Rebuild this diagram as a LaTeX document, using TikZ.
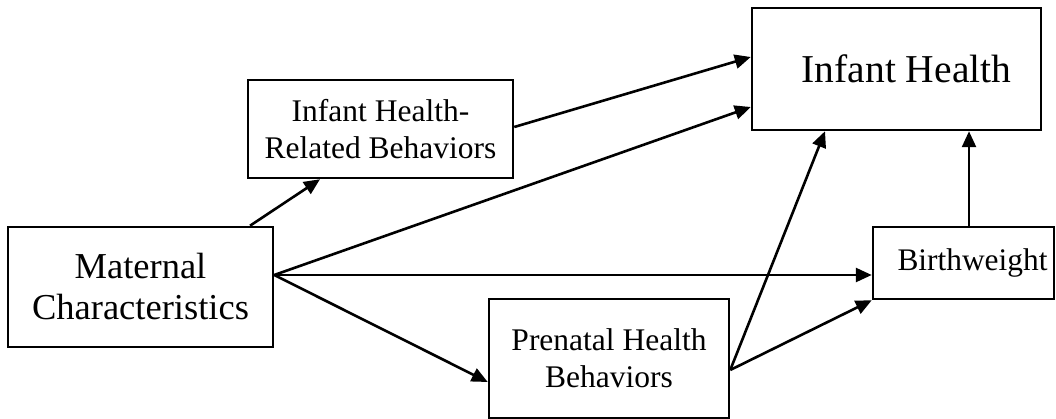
\documentclass[tikz,border=0pt]{standalone}
\usepackage{fontspec}
\setmainfont{Liberation Serif}
\usetikzlibrary{arrows.meta}
\begin{document}
\begin{tikzpicture}[x=1pt,y=-1pt,
  box/.style={draw,line width=2.5pt,align=center,inner sep=0pt,anchor=center},
  arr/.style={line width=2.6pt,-{Triangle[length=16pt,width=14pt]}}]
\useasboundingbox (0,0) rectangle (1056,419);
\node[box,minimum width=289pt,minimum height=122pt,font=\fontsize{39.5}{45}\selectfont] (ih) at (896.5,69) {\hspace*{20pt}Infant Health};
\node[box,minimum width=265pt,minimum height=98pt,font=\fontsize{31.5}{37}\selectfont] (ihrb) at (380.5,129) {Infant Health-\\Related Behaviors};
\node[box,minimum width=265pt,minimum height=120pt,font=\fontsize{36.5}{41}\selectfont] (mat) at (140.5,287) {Maternal\\Characteristics};
\node[box,minimum width=181pt,minimum height=72pt,font=\fontsize{31.4}{37}\selectfont] (bw) at (963.5,263) {\hspace*{18pt}Birthweight};
\node[box,minimum width=240pt,minimum height=119pt,font=\fontsize{31.5}{37}\selectfont] (pre) at (609,358.5) {Prenatal Health\\Behaviors};
\draw[arr] ([xshift=109.5pt]mat.north) -- ([xshift=-60.5pt]ihrb.south);
\draw[arr] ([yshift=2pt]ihrb.east) -- ([yshift=12pt]ih.west);
\draw[arr] ([yshift=12pt]mat.east) -- ([yshift=-38pt]ih.west);
\draw[arr] ([yshift=12pt]mat.east) -- ([yshift=-12pt]bw.west);
\draw[arr] ([yshift=12pt]mat.east) -- ([yshift=-23.5pt]pre.west);
\draw[arr] ([yshift=-11.5pt]pre.east) -- ([xshift=-71.5pt]ih.south);
\draw[arr] ([yshift=-11.5pt]pre.east) -- (bw.south west);
\draw[arr] ([xshift=5.5pt]bw.north) -- ([xshift=72.5pt]ih.south);
\end{tikzpicture}
\end{document}
